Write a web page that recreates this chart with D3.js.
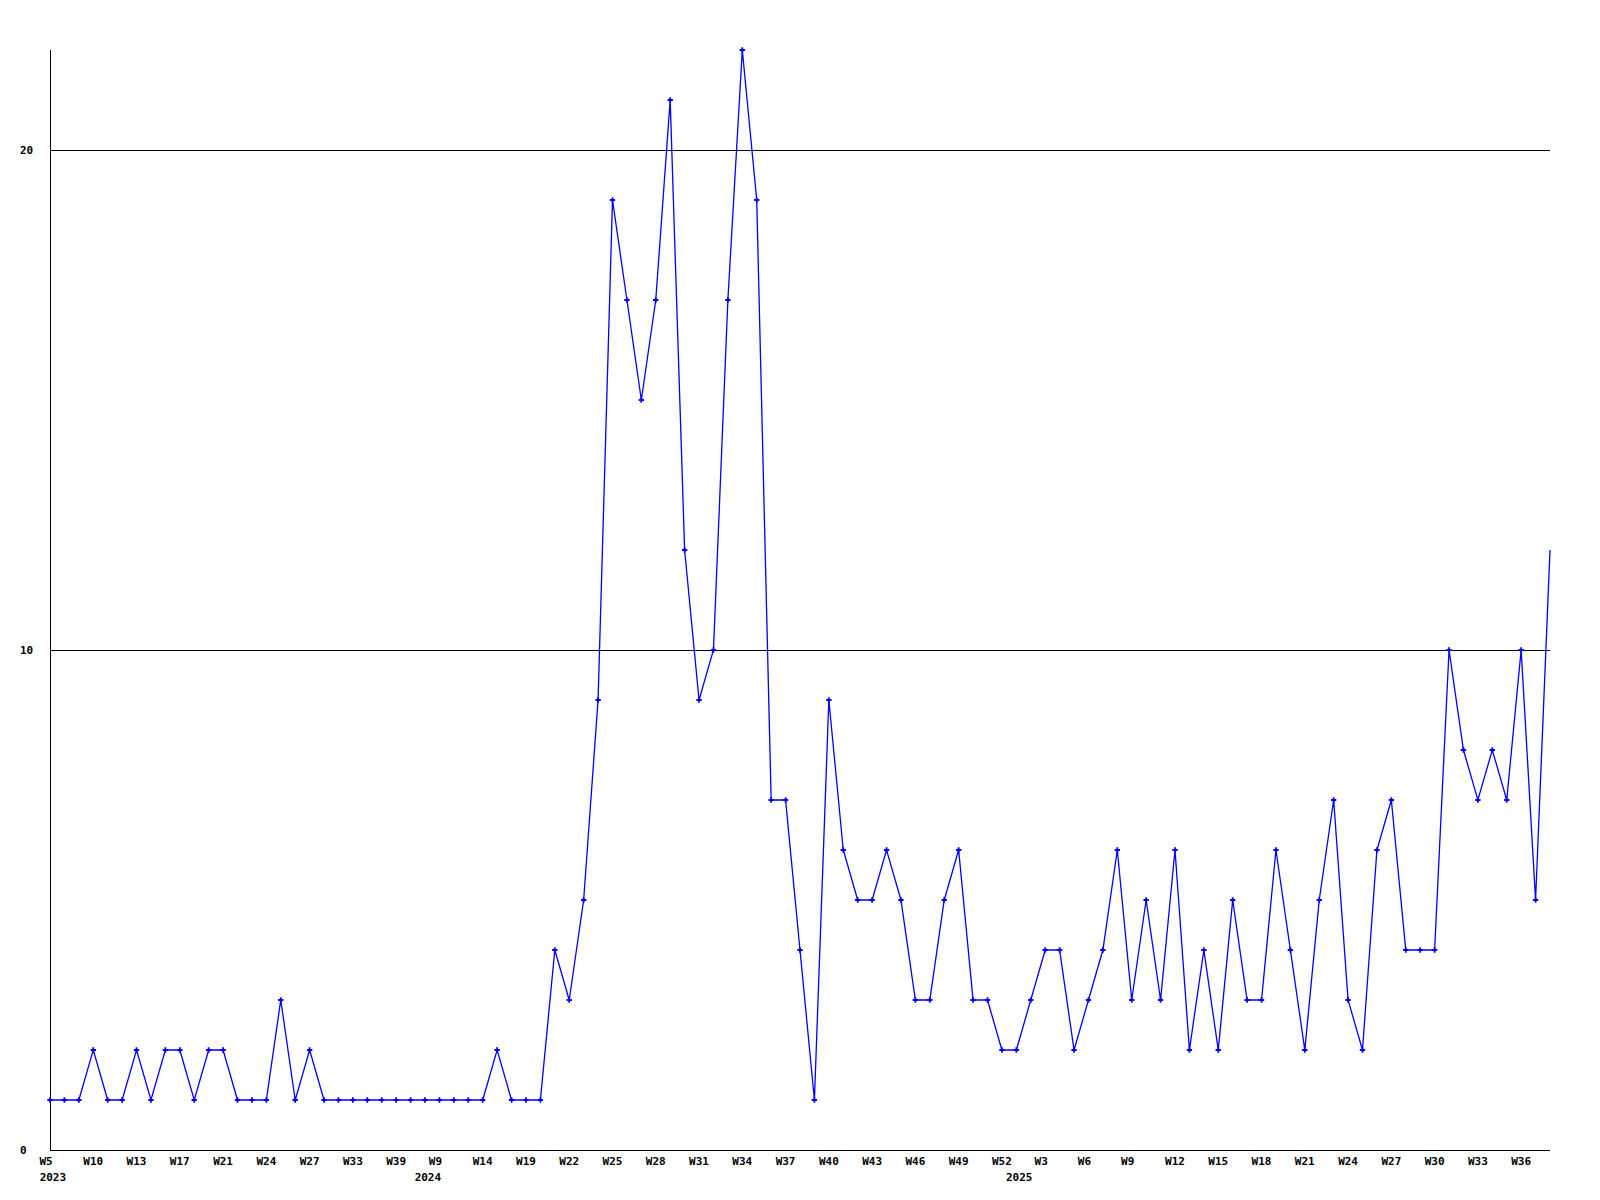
<!DOCTYPE html>
<html>
<head>
<meta charset="utf-8">
<script src="https://cdn.jsdelivr.net/npm/d3@7"></script>
<style>
  html, body { margin: 0; padding: 0; background: #fff; }
  text { font-family: "DejaVu Sans Mono", "Liberation Mono", monospace; font-weight: bold; font-size: 11px; fill: #000; }
</style>
</head>
<body>
<div id="chart"></div>
<script>
// weekly counts, one point per week that has data
var values = [
  1, 1, 1, 2, 1, 1, 2, 1, 2, 2, 1, 2, 2, 1, 1, 1, 3, 1, 2, 1,
  1, 1, 1, 1, 1, 1, 1, 1, 1, 1, 1, 2, 1, 1, 1, 4, 3, 5, 9, 19,
  17, 15, 17, 21, 12, 9, 10, 17, 22, 19, 7, 7, 4, 1, 9, 6, 5, 5, 6, 5,
  3, 3, 5, 6, 3, 3, 2, 2, 3, 4, 4, 2, 3, 4, 6, 3, 5, 3, 6, 2,
  4, 2, 5, 3, 3, 6, 4, 2, 5, 7, 3, 2, 6, 7, 4, 4, 4, 10, 8, 7,
  8, 7, 10, 5, 12
]

// every third point gets a week label
var weekTicks = ['W5', 'W10', 'W13', 'W17', 'W21', 'W24', 'W27', 'W33', 'W39',
  'W9', 'W14', 'W19', 'W22', 'W25', 'W28', 'W31', 'W34', 'W37', 'W40', 'W43',
  'W46', 'W49', 'W52', 'W3', 'W6', 'W9', 'W12', 'W15', 'W18', 'W21', 'W24',
  'W27', 'W30', 'W33', 'W36']
var tickStep = 3

// year labels, placed at a point index
var yearLabels = ['2023', '2024', '2025']
var yearPos = [0.2, 26.2, 67.2]

var yTicks = [0, 10, 20]

var width = 1600
var height = 1200
var margin = { top: 50, right: 50, bottom: 50, left: 50 }

var svg = d3.select('#chart').append('svg')
  .attr('width', width)
  .attr('height', height)
  .style('display', 'block')

svg.append('rect').attr('width', width).attr('height', height).attr('fill', '#fff')

var x = d3.scaleLinear()
  .domain([0, values.length - 1])
  .range([margin.left, width - margin.right])

var y = d3.scaleLinear()
  .domain([0, 22])
  .range([height - margin.bottom, margin.top])

// grid lines at 10 and 20
svg.selectAll('line.grid')
  .data(yTicks.filter(d => d > 0))
  .enter().append('line')
  .attr('class', 'grid')
  .attr('x1', x(0))
  .attr('x2', x(values.length - 1))
  .attr('y1', d => Math.round(y(d)) + 0.5)
  .attr('y2', d => Math.round(y(d)) + 0.5)
  .attr('stroke', '#000')
  .attr('stroke-width', 1)

// axes
svg.append('line')
  .attr('x1', x(0) + 0.5).attr('x2', x(0) + 0.5)
  .attr('y1', y(22)).attr('y2', y(0) + 1)
  .attr('stroke', '#000')
svg.append('line')
  .attr('x1', x(0)).attr('x2', x(values.length - 1))
  .attr('y1', y(0) + 0.5).attr('y2', y(0) + 0.5)
  .attr('stroke', '#000')

// y labels
svg.selectAll('text.ylab')
  .data(yTicks)
  .enter().append('text')
  .attr('class', 'ylab')
  .attr('x', 20)
  .attr('y', d => y(d))
  .attr('dy', '0.35em')
  .text(d => d)

// x labels
svg.selectAll('text.xlab')
  .data(weekTicks)
  .enter().append('text')
  .attr('class', 'xlab')
  .attr('x', (d, i) => x(i * tickStep) - (d.length < 3 ? 4 : 0))
  .attr('y', y(0) + 11)
  .attr('dy', '0.35em')
  .attr('text-anchor', 'middle')
  .text(d => d)

svg.selectAll('text.year')
  .data(yearLabels)
  .enter().append('text')
  .attr('class', 'year')
  .attr('x', (d, i) => x(yearPos[i]))
  .attr('y', y(0) + 27)
  .attr('dy', '0.35em')
  .attr('text-anchor', 'middle')
  .text(d => d)

// the series line
var line = d3.line()
  .x((d, i) => x(i))
  .y(d => y(d))

svg.append('path')
  .datum(values)
  .attr('d', line)
  .attr('fill', 'none')
  .attr('stroke', '#0000ff')
  .attr('stroke-width', 1.3)

// point markers (last one sits on the edge and isn't drawn)
var marker = d3.symbol().type(d3.symbolCross).size(16)
svg.selectAll('path.pt')
  .data(values.slice(0, -1))
  .enter().append('path')
  .attr('class', 'pt')
  .attr('d', marker)
  .attr('transform', (d, i) => 'translate(' + x(i) + ',' + y(d) + ')')
  .attr('fill', '#0000ff')
</script>
</body>
</html>
